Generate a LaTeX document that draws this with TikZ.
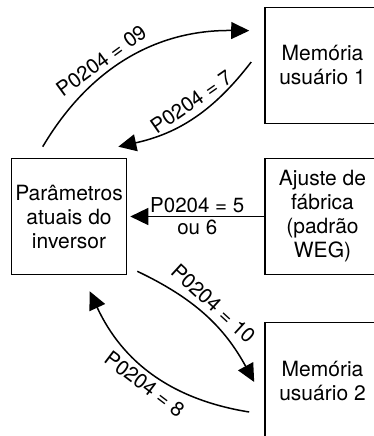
\documentclass[tikz,border=0pt]{standalone}
\usepackage{fontspec}
\setmainfont{TeX Gyre Heros}
\usetikzlibrary{arrows.meta}

\begin{document}
\begin{tikzpicture}%
        [x=1pt,
        y=-1pt,
        box/.style={draw, line width=1.6pt, inner sep=0pt, minimum width=115pt, minimum height=116pt, align=center},
        link/.style={line width=1.5pt, -{Triangle[length=18pt,width=17pt]}},
        tag/.style={inner sep=5pt, font=\fontsize{20.5}{24}\selectfont}]
    \fontsize{21}{24}\selectfont
    %%
    %% Page size of the picture
    \useasboundingbox (0,0) rectangle (374,436);
    \clip (0,0) rectangle (374,436);
    %%
    %% Drawing the boxes
    \node[box] (par)  at (69,216.5)    {Parâmetros\\atuais do\\inversor};
    \node[box] (mem1) at (322.5,65.5)  {Memória\\usuário 1};
    \node[box] (fab)  at (322.5,216.5) {Ajuste de\\fábrica\\(padrão\\WEG)};
    \node[box] (mem2) at (322.5,380.5) {Memória\\usuário 2};
    %%
    %% Drawing the arrows
    \draw[link] ([xshift=32pt,yshift=11pt]par.north west) to[bend left=30]
        node[tag, pos=0.4, sloped, above] {P0204 = 09} ([xshift=-15pt,yshift=-24pt]mem1.north west);
    \draw[link] ([xshift=-13pt,yshift=3.5pt]mem1.west) to[bend left=20]
        node[tag, pos=0.45, sloped, above, inner sep=6pt] {P0204 = 7} ([xshift=-9pt,yshift=11pt]par.north east);
    \draw[link] (fab.west) -- node[tag, above, inner sep=3pt] {P0204 = 5} node[tag, below, inner sep=3pt] {ou 6} ([xshift=3pt]par.east);
    \draw[link] ([xshift=10pt,yshift=4pt]par.south east) to[bend left=18]
        node[tag, pos=0.48, sloped, above, inner sep=6pt] {P0204 = 10} ([xshift=-10pt,yshift=-1.5pt]mem2.west);
    \draw[link] ([xshift=-15pt,yshift=-31.5pt]mem2.west) to[bend left=28]
        node[tag, pos=0.5, sloped, below] {P0204 = 8} ([xshift=79pt,yshift=-16pt]par.south west);
    %%
\end{tikzpicture}
\end{document}
